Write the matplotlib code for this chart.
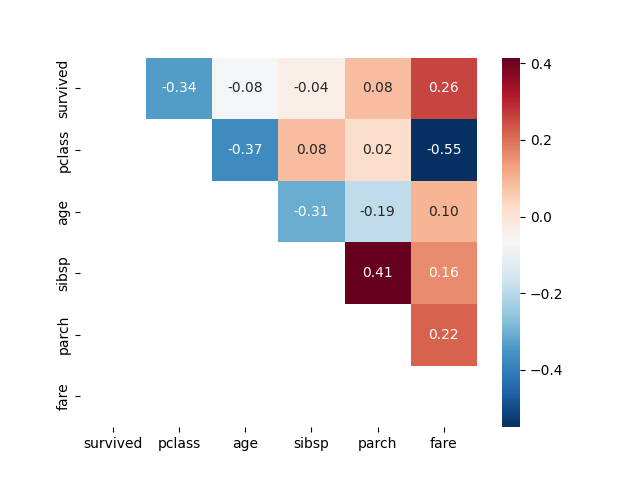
import numpy as np
import pandas as pd
import matplotlib
matplotlib.use("Agg")
import matplotlib.pyplot as plt
import seaborn as sns

labels = ["survived", "pclass", "age", "sibsp", "parch", "fare"]
survived = [1.0, -0.338481, -0.077221, -0.035322, 0.081629, 0.257307]
pclass = [-0.338481, 1.0, -0.369226, 0.083081, 0.018443, -0.549500]
age = [-0.077221, -0.369226, 1.0, -0.308247, -0.189119, 0.096067]
sibsp = [-0.035322, 0.083081, -0.308247, 1.0, 0.414838, 0.159651]
parch = [0.081629, 0.018443, -0.189119, 0.414838, 1.0, 0.216225]
fare = [0.257307, -0.549500, 0.096067, 0.159651, 0.216225, 1.0]

corr = pd.DataFrame([survived, pclass, age, sibsp, parch, fare],
                    index=labels, columns=labels)
mask = np.tril(np.ones_like(corr, dtype=bool))

fig, ax = plt.subplots(figsize=(6.4, 4.8), dpi=100)
sns.heatmap(corr, mask=mask, annot=True, fmt=".2f", cmap="RdBu_r", ax=ax)
fig.savefig("out.png")
